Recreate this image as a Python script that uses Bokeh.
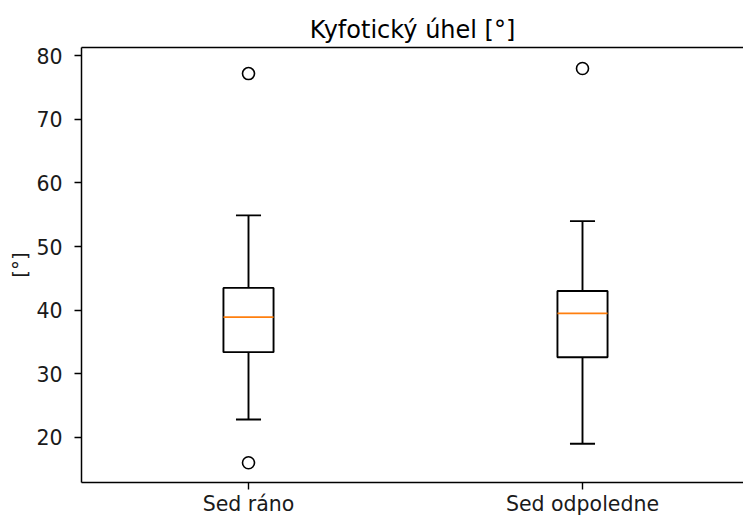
from bokeh.plotting import figure
from bokeh.models import Range1d, FixedTicker, LinearAxis
from bokeh.embed import file_html
from bokeh.resources import INLINE

# ---- data ----
categories = ["Sed ráno", "Sed odpoledne"]
positions = [1, 2]
q1 = [33.4, 32.6]
median = [38.9, 39.5]
q3 = [43.5, 43.0]
whisker_low = [22.8, 19.0]
whisker_high = [54.9, 54.0]
flier_pos = [1, 1, 2]
flier_val = [77.2, 16.0, 78.0]
y_ticks = [20, 30, 40, 50, 60, 70, 80]
title_text = "Kyfotický úhel [°]"
y_label = "[°]"

BOX_W = 0.15
CAP_W = 0.075
FONT = "DejaVu Sans"
LW = 1.9

p = figure(width=743, height=518, output_backend="svg", toolbar_location=None,
           x_range=Range1d(0.5, 0.5 + 662 / 334), y_range=Range1d(12.9, 81.3),
           min_border_left=81, min_border_right=0, min_border_top=47, min_border_bottom=35,
           title=title_text)
p.outline_line_color = None
p.xgrid.visible = False
p.ygrid.visible = False
p.background_fill_color = "white"
p.border_fill_color = "white"

p.title.align = "center"
p.title.text_font = FONT
p.title.text_font_size = "24px"
p.title.text_font_style = "normal"
p.title.text_color = "#000000"
p.title.standoff = 8

# axes
for ax in (p.xaxis[0], p.yaxis[0]):
    ax.axis_line_color = "#000000"
    ax.axis_line_width = 1.5
    ax.major_tick_line_color = "#000000"
    ax.major_tick_line_width = 1.4
    ax.major_tick_out = 7
    ax.major_tick_in = 0
    ax.minor_tick_line_color = None
    ax.major_label_text_font = FONT
    ax.major_label_text_font_size = "20.5px"
    ax.major_label_text_color = "#1a1a1a"

p.yaxis.major_label_standoff = 12
p.xaxis.major_label_standoff = 2
p.yaxis.ticker = FixedTicker(ticks=y_ticks)
p.xaxis.ticker = FixedTicker(ticks=positions)
p.xaxis.major_label_overrides = {pos: lab for pos, lab in zip(positions, categories)}
p.yaxis.axis_label = y_label
p.yaxis.axis_label_text_font = FONT
p.yaxis.axis_label_text_font_size = "20px"
p.yaxis.axis_label_text_font_style = "normal"
p.yaxis.axis_label_text_color = "#1a1a1a"
p.yaxis.axis_label_standoff = 1

# top spine
top = LinearAxis(ticker=FixedTicker(ticks=[]), axis_line_color="#000000", axis_line_width=1.5,
                 major_tick_line_color=None, minor_tick_line_color=None,
                 major_label_text_font_size="0px")
p.add_layout(top, "above")

# whiskers
p.segment(x0=positions, y0=q3, x1=positions, y1=whisker_high, line_color="black", line_width=LW)
p.segment(x0=positions, y0=q1, x1=positions, y1=whisker_low, line_color="black", line_width=LW)
# caps
p.segment(x0=[x - CAP_W / 2 for x in positions], y0=whisker_high,
          x1=[x + CAP_W / 2 for x in positions], y1=whisker_high, line_color="black", line_width=LW)
p.segment(x0=[x - CAP_W / 2 for x in positions], y0=whisker_low,
          x1=[x + CAP_W / 2 for x in positions], y1=whisker_low, line_color="black", line_width=LW)
# boxes
p.quad(left=[x - BOX_W / 2 for x in positions], right=[x + BOX_W / 2 for x in positions],
       bottom=q1, top=q3, fill_color=None, line_color="black", line_width=LW)
# medians
p.segment(x0=[x - BOX_W / 2 for x in positions], y0=median,
          x1=[x + BOX_W / 2 for x in positions], y1=median, line_color="#ff7f0e", line_width=LW)
# fliers
p.scatter(x=flier_pos, y=flier_val, marker="circle", size=12, fill_color=None,
          line_color="black", line_width=1.6)

open("out.html", "w").write(file_html(p, INLINE))
